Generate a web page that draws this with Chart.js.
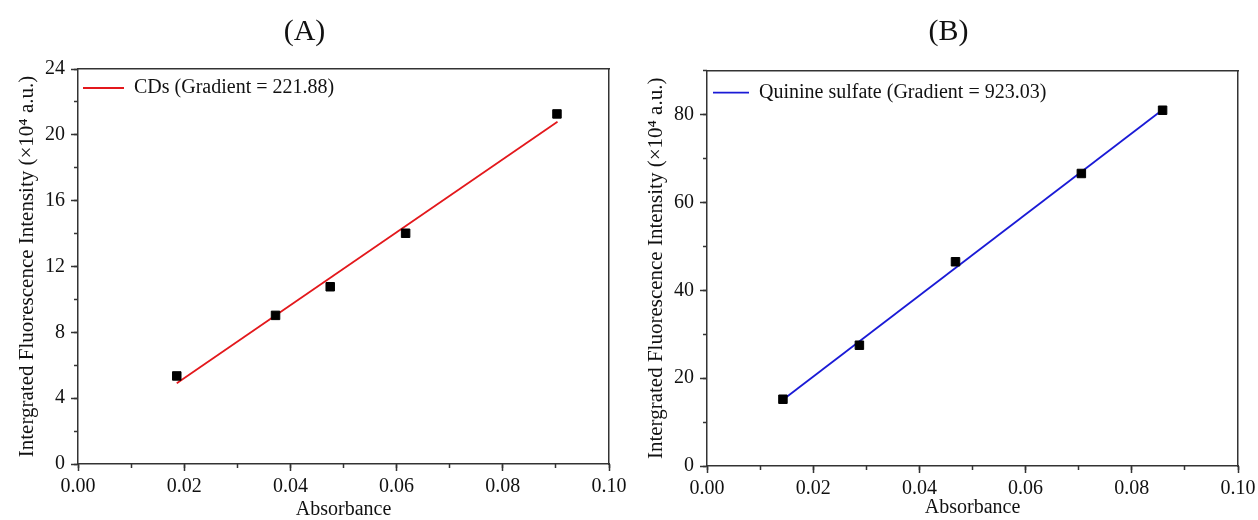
<!DOCTYPE html>
<html><head><meta charset="utf-8">
<script src="https://cdn.jsdelivr.net/npm/chart.js@4/dist/chart.umd.min.js"></script>
<style>
html,body{margin:0;padding:0;background:#fff;}
#wrap{position:relative;width:1258px;height:520px;overflow:hidden;background:#fff;}
canvas{position:absolute;top:0;}
#cA{left:0;}
#cB{left:639px;}
</style></head><body>
<div id="wrap">
<canvas id="cA" width="629" height="520"></canvas>
<canvas id="cB" width="619" height="520"></canvas>
</div>
<script>
// ---- data ----
const panelTitles = ['(A)', '(B)'];
const xAxisTitle = 'Absorbance';
const yAxisTitle = 'Intergrated Fluorescence Intensity (×10⁴ a.u.)';

const cdsLabel = 'CDs (Gradient = 221.88)';
const cdsAbs = [0.0186, 0.0372, 0.0475, 0.0617, 0.0902];
const cdsInt = [5.35, 9.03, 10.77, 14.02, 21.27];
const cdsFitAbs = [0.0186, 0.0903];
const cdsFitInt = [4.90, 20.80];

const qsLabel = 'Quinine sulfate (Gradient = 923.03)';
const qsAbs = [0.0143, 0.0287, 0.0468, 0.0705, 0.0858];
const qsInt = [15.2, 27.5, 46.5, 66.6, 81.0];
const qsFitAbs = [0.0143, 0.0858];
const qsFitInt = [15.1, 81.1];

const xRange = [0, 0.10];
const xMajorStep = 0.02, xMinorStep = 0.01;
const cdsYRange = [0, 24], cdsYMajor = 4, cdsYMinor = 2;
const qsYRange = [0, 90], qsYMajor = 20, qsYMinor = 10;

// ---- styling ----
Chart.defaults.font.family = "'Liberation Serif','Times New Roman',serif";
Chart.defaults.color = '#111';
const AXIS = '#333';
const FONT = "'Liberation Serif','Times New Roman',serif";

function pts(xs, ys) { return xs.map((x, i) => ({x: x, y: ys[i]})); }

// keep the legend (position 'chartArea') anchored to the top-left of the plot area
const legendInPlot = {
  id: 'legendInPlot',
  afterLayout(chart, args, opts) {
    const lg = chart.legend, ca = chart.chartArea;
    if (!lg || !ca) return;
    const dy = (opts && opts.dy) || 0;
    const h = lg.height;
    lg.left = ca.left; lg.top = ca.top + dy; lg.bottom = lg.top + h; lg.right = ca.left + lg.width;
  }
};

function makeChart(id, cfg) {
  const tickGrid = (len, major) => ({display: true, drawOnChartArea: false, drawTicks: true, tickLength: len,
    tickColor: major ? (c) => (c.tick && Math.abs(c.tick.value / major - Math.round(c.tick.value / major)) < 1e-6 ? AXIS : 'rgba(0,0,0,0)') : AXIS,
    tickWidth: 1.5});
  const zeroPad = (s) => { s.paddingLeft = 0; s.paddingRight = 0; s.paddingTop = 0; s.paddingBottom = 0; };
  return new Chart(document.getElementById(id), {
    type: 'scatter',
    plugins: [legendInPlot],
    data: {
      datasets: [
        {label: 'data', data: pts(cfg.xs, cfg.ys), pointStyle: 'rect', pointRadius: 6, pointHoverRadius: 6,
         backgroundColor: '#000', borderColor: '#000', borderWidth: 1, showLine: false},
        {label: cfg.label, data: pts(cfg.fx, cfg.fy), showLine: true, pointRadius: 0, pointHoverRadius: 0,
         pointStyle: 'line', borderColor: cfg.color, backgroundColor: cfg.color, borderWidth: 1.8, fill: false}
      ]
    },
    options: {
      responsive: false, animation: false, devicePixelRatio: 1,
      events: [],
      layout: {padding: {left: 0, top: 0, right: cfg.padRight, bottom: 0}},
      plugins: {
        legendInPlot: {dy: cfg.legendDy},
        tooltip: {enabled: false},
        title: {display: true, text: cfg.title, color: '#111',
                font: {family: FONT, size: 30, weight: 'normal', lineHeight: 1.2},
                padding: {top: 14, bottom: cfg.titlePadBottom}},
        legend: {display: true, position: 'chartArea', align: 'start',
                 labels: {usePointStyle: true, pointStyleWidth: cfg.legendBox, padding: cfg.legendPad,
                          color: '#111', font: {family: FONT, size: 20},
                          filter: (item) => item.datasetIndex === 1}}
      },
      scales: {
        x: {type: 'linear', position: 'bottom', weight: 1, min: xRange[0], max: xRange[1],
            ticks: {stepSize: xMajorStep, autoSkip: false, maxRotation: 0, padding: 4, color: '#111',
                    font: {family: FONT, size: 20}, callback: (v) => Number(v).toFixed(2)},
            grid: tickGrid(7), border: {display: true, color: AXIS, width: 1.5},
            title: {display: true, text: xAxisTitle, color: '#111', font: {family: FONT, size: 20, lineHeight: 1},
                    padding: {top: 0, bottom: cfg.xTitlePad}},
            afterFit: (s) => { s.height = cfg.xH; zeroPad(s); }},
        xm: {type: 'linear', position: 'bottom', weight: 0, min: xRange[0], max: xRange[1],
             ticks: {display: false, stepSize: xMinorStep}, grid: tickGrid(4), border: {display: false},
             afterFit: (s) => { s.height = 0; zeroPad(s); }},
        x2: {type: 'linear', position: 'top', weight: 0, min: xRange[0], max: xRange[1],
             ticks: {display: false}, grid: {display: false, drawTicks: false}, border: {display: true, color: AXIS, width: 1.5},
             afterFit: (s) => { s.height = 0; zeroPad(s); }},
        y: {type: 'linear', position: 'left', weight: 1, min: cfg.yRange[0], max: cfg.yRange[1],
            ticks: {stepSize: cfg.yMajor, autoSkip: false, padding: 6, color: '#111',
                    font: {family: FONT, size: 20},
                    callback: (v) => (Math.abs(v / cfg.yMajor - Math.round(v / cfg.yMajor)) < 1e-6 ? String(v) : '')},
            grid: tickGrid(7, cfg.yMajor), border: {display: true, color: AXIS, width: 1.5},
            title: {display: true, text: yAxisTitle, color: '#111', font: {family: FONT, size: 21, lineHeight: 1},
                    padding: {top: cfg.yTitlePad, bottom: 0}},
            afterFit: (s) => { s.width = cfg.yW; zeroPad(s); }},
        ym: {type: 'linear', position: 'left', weight: 0, min: cfg.yRange[0], max: cfg.yRange[1],
             ticks: {display: false, stepSize: cfg.yMinor}, grid: tickGrid(4), border: {display: false},
             afterFit: (s) => { s.width = 0; zeroPad(s); }},
        y2: {type: 'linear', position: 'right', weight: 0, min: cfg.yRange[0], max: cfg.yRange[1],
             ticks: {display: false}, grid: {display: false, drawTicks: false}, border: {display: true, color: AXIS, width: 1.5},
             afterFit: (s) => { s.width = cfg.rightW; zeroPad(s); }}
      }
    }
  });
}

makeChart('cA', {
  title: panelTitles[0], label: cdsLabel, color: '#e3181c',
  xs: cdsAbs, ys: cdsInt, fx: cdsFitAbs, fy: cdsFitInt,
  yRange: cdsYRange, yMajor: cdsYMajor, yMinor: cdsYMinor,
  padRight: 20, rightW: 0, yW: 78, xH: 56, titlePadBottom: 19,
  xTitlePad: 0, yTitlePad: 16.5, legendBox: 41, legendPad: 5, legendDy: 4
});
makeChart('cB', {
  title: panelTitles[1], label: qsLabel, color: '#1a1ad6',
  xs: qsAbs, ys: qsInt, fx: qsFitAbs, fy: qsFitInt,
  yRange: qsYRange, yMajor: qsYMajor, yMinor: qsYMinor,
  padRight: 0, rightW: 20, yW: 68, xH: 54, titlePadBottom: 20.7,
  xTitlePad: 2.5, yTitlePad: 7, legendBox: 36, legendPad: 6, legendDy: 6
});
</script>
</body></html>
